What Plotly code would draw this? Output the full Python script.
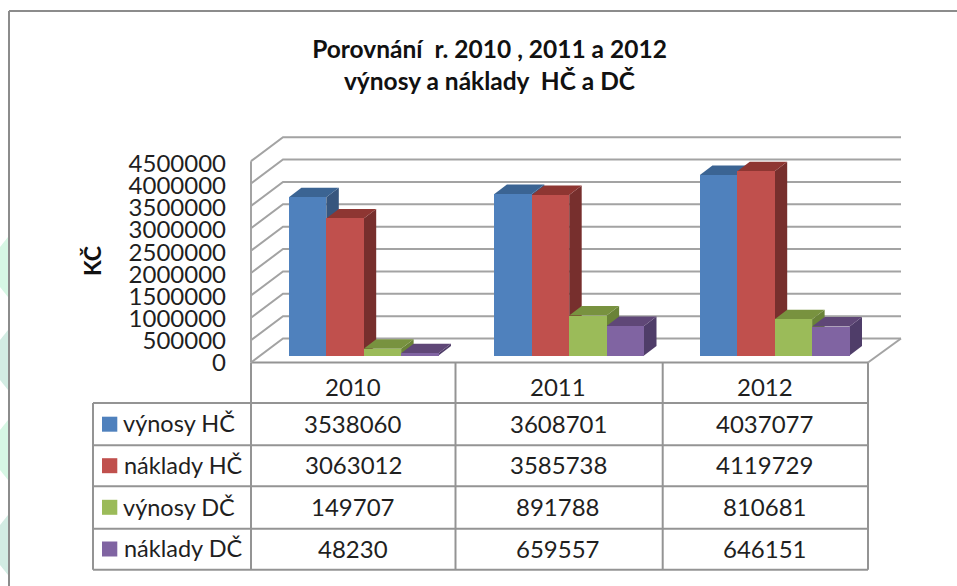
import plotly.graph_objects as go

# ---------- data ----------
categories = ["2010", "2011", "2012"]
vynosy_hc = [3538060, 3608701, 4037077]
naklady_hc = [3063012, 3585738, 4119729]
vynosy_dc = [149707, 891788, 810681]
naklady_dc = [48230, 659557, 646151]
series_names = ["výnosy HČ", "náklady HČ", "výnosy DČ", "náklady DČ"]
tick_values = [0, 500000, 1000000, 1500000, 2000000, 2500000, 3000000, 3500000, 4000000, 4500000]
series_values = [vynosy_hc, naklady_hc, vynosy_dc, naklady_dc]

front_colors = ["#4F81BD", "#C0504D", "#9BBB59", "#8064A2"]
top_colors = ["#3B6493", "#8E3632", "#78923F", "#5F4777"]
side_colors = ["#37567E", "#772F2D", "#6A8338", "#4F3D69"]
GRID = "#A3A3A3"
TABLE_LINE = "#949494"
TEXT = "#1F1F1F"
FONT = "Lato"

# ---------- layout geometry (pixels of the 957x586 page) ----------
W, H = 957, 586
X0, CAT = 363.7, 205.5      # px of first group's centre, px per category
Y0, PX_PER_UNIT = 355.5, 22.37 / 500000  # px of bar base, px per value
BAR_W = 37.4 / CAT
DEPTH_X, DEPTH_Y = 12.5 / CAT, 9.5 / PX_PER_UNIT
x_range = [(0 - X0) / CAT, (W - X0) / CAT]
y_range = [(Y0 - H) / PX_PER_UNIT, Y0 / PX_PER_UNIT]


def ux(px):
    return (px - X0) / CAT


def vy(px):
    return (Y0 - px) / PX_PER_UNIT


def px_x(px):
    return px / W


def px_y(py):
    return 1 - py / H


fig = go.Figure()

# --- walls and floor, drawn from the tick values ---
back_left, back_right, front_left, front_right = ux(283), ux(901), ux(251), ux(868)
back_zero, front_zero = vy(338.5), vy(362.5)
for t in tick_values:
    fig.add_trace(go.Scatter(
        x=[front_left, back_left, back_right], y=[front_zero + t, back_zero + t, back_zero + t],
        mode="lines", line=dict(color=GRID, width=2), hoverinfo="skip", showlegend=False))
fig.add_trace(go.Scatter(
    x=[front_left, front_left], y=[front_zero, front_zero + tick_values[-1]],
    mode="lines", line=dict(color=GRID, width=2), hoverinfo="skip", showlegend=False))
fig.add_trace(go.Scatter(
    x=[front_right, back_right], y=[front_zero, back_zero],
    mode="lines", line=dict(color=GRID, width=2), hoverinfo="skip", showlegend=False))

# --- 3-D side and top faces ---
for s, (name, vals) in enumerate(zip(series_names, series_values)):
    for c, v in enumerate(vals):
        left = c - 2 * BAR_W + s * BAR_W
        right = left + BAR_W
        fig.add_trace(go.Scatter(
            x=[right, right + DEPTH_X, right + DEPTH_X, right, right],
            y=[0, DEPTH_Y, v + DEPTH_Y, v, 0],
            mode="lines", fill="toself", fillcolor=side_colors[s], line=dict(width=0),
            hoverinfo="skip", showlegend=False))
        fig.add_trace(go.Scatter(
            x=[left, right, right + DEPTH_X, left + DEPTH_X, left],
            y=[v, v, v + DEPTH_Y, v + DEPTH_Y, v],
            mode="lines", fill="toself", fillcolor=top_colors[s], line=dict(width=0),
            hoverinfo="skip", showlegend=False))

# --- front faces, on an overlaying subplot so they cover the faces behind ---
for s, (name, vals) in enumerate(zip(series_names, series_values)):
    fig.add_trace(go.Bar(
        x=list(range(len(categories))), y=vals, name=name, width=BAR_W,
        offset=-2 * BAR_W + s * BAR_W, marker=dict(color=front_colors[s], line=dict(width=0)),
        xaxis="x2", yaxis="y2", showlegend=False))

# --- invisible trace that carries the labelled value axis ---
tick_step, tick_zero = 22.02 / 500000, 362.2
dom_top, dom_bot = 137, 385
fig.add_trace(go.Scatter(
    x=[0] * len(tick_values), y=tick_values, mode="markers", marker=dict(opacity=0),
    hoverinfo="skip", showlegend=False, xaxis="x", yaxis="y3"))

# --- table ---
shapes = []


def line(x1, y1, x2, y2, color=TABLE_LINE):
    shapes.append(dict(type="line", xref="paper", yref="paper", x0=px_x(x1), y0=px_y(y1),
                       x1=px_x(x2), y1=px_y(y2), line=dict(color=color, width=2), layer="below"))


col_x = [93, 251, 455.5, 662.7, 868]
row_y = [362.5, 403, 445.3, 486.3, 528.7, 569.7]
for i, cx in enumerate(col_x):
    line(cx, row_y[0] if i else row_y[1], cx, row_y[-1])
for j, ry in enumerate(row_y):
    line(col_x[0] if j else col_x[1], ry, col_x[-1], ry)

# chart frame
line(9, 11, W, 11, "#8C8C8C")
line(9, 11, 9, H, "#8C8C8C")

# pale page decoration at the far left
for top, bot, col in [(237, 297, "#D6F7E4"), (330, 390, "#D2ECE3"), (420, 480, "#D6F7E4"), (515, 575, "#D2ECE3")]:
    shapes.append(dict(type="path", xref="paper", yref="paper", layer="below", line=dict(width=0),
                       fillcolor=col,
                       path=f"M {px_x(0)} {px_y(top + 10)} L {px_x(8)} {px_y(top)} L {px_x(8)} {px_y(bot)} "
                            f"L {px_x(0)} {px_y(bot - 10)} Z"))

# legend keys
key_tops = [416.7, 458.2, 499.8, 541.5]
for color, top in zip(front_colors, key_tops):
    shapes.append(dict(type="rect", xref="paper", yref="paper", x0=px_x(102), x1=px_x(117.3),
                       y0=px_y(top), y1=px_y(top + 15), fillcolor=color, line=dict(width=0), layer="below"))

annotations = []


def label(text, px, py, anchor="center", size=24):
    annotations.append(dict(text=text, xref="paper", yref="paper",
                            x=px_x(px), y=px_y(py), xanchor=anchor, yanchor="middle", showarrow=False,
                            font=dict(family=FONT, size=size, color=TEXT)))


col_centres = [353, 558.3, 764.7]
row_centres = [423, 464.7, 506.7, 548]
legend_left = [120.5, 122, 120.5, 122]
for cx, cat in zip(col_centres, categories):
    label(cat, cx, 386.5)
for r, (name, vals) in enumerate(zip(series_names, series_values)):
    label(name, legend_left[r], row_centres[r], anchor="left", size=23.5)
    for cx, v in zip(col_centres, vals):
        label(str(v), cx, row_centres[r])

fig.update_layout(
    width=W, height=H, margin=dict(l=0, r=0, t=0, b=0),
    paper_bgcolor="white", plot_bgcolor="rgba(0,0,0,0)", showlegend=False,
    barmode="overlay", bargap=0,
    title=dict(text="<b>Porovnání\u00a0 r. 2010 , 2011 a 2012<br>výnosy a náklady\u00a0 HČ a DČ</b>",
               x=489.5 / W, xanchor="center", y=1 - 58 / H, yanchor="middle",
               font=dict(family=FONT, size=24.5, color="#111111")),
    xaxis=dict(range=x_range, visible=False, domain=[0, 1], fixedrange=True),
    yaxis=dict(range=y_range, visible=False, domain=[0, 1], fixedrange=True),
    xaxis2=dict(range=x_range, visible=False, overlaying="x", fixedrange=True),
    yaxis2=dict(range=y_range, visible=False, overlaying="y", fixedrange=True),
    yaxis3=dict(
        domain=[1 - dom_bot / H, 1 - dom_top / H],
        range=[(tick_zero - dom_bot) / tick_step, (tick_zero - dom_top) / tick_step],
        anchor="free", position=226 / W, side="left",
        tickmode="array", tickvals=tick_values, ticktext=[str(t) for t in tick_values],
        ticks="", ticklen=0, showgrid=False, zeroline=False, showline=False,
        tickfont=dict(family=FONT, size=24, color=TEXT), automargin=False, fixedrange=True,
        title=dict(text="<b>KČ</b>", standoff=19, font=dict(family=FONT, size=23, color="#111111"))),
    shapes=shapes, annotations=annotations,
)

fig.write_html("out.html", config=dict(displayModeBar=False),
               post_script="document.body.style.margin='0';")
